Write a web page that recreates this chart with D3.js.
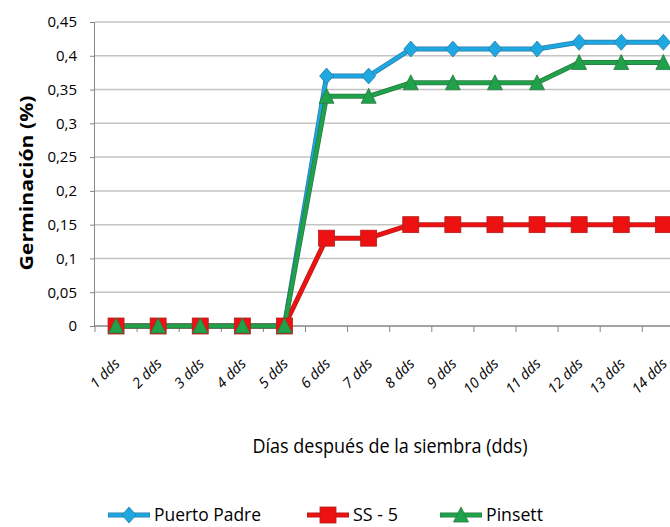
<!DOCTYPE html>
<html><head><meta charset="utf-8">
<script src="https://cdn.jsdelivr.net/npm/d3@7"></script>
<style>body{margin:0;background:#fff}svg{display:block}</style>
</head><body>
<script>
const categories = ["1 dds","2 dds","3 dds","4 dds","5 dds","6 dds","7 dds","8 dds","9 dds","10 dds","11 dds","12 dds","13 dds","14 dds"];
const puertoPadre = [0,0,0,0,0,0.37,0.37,0.41,0.41,0.41,0.41,0.42,0.42,0.42];
const ss5 = [0,0,0,0,0,0.13,0.13,0.15,0.15,0.15,0.15,0.15,0.15,0.15];
const pinsett = [0,0,0,0,0,0.34,0.34,0.36,0.36,0.36,0.36,0.39,0.39,0.39];
const yTicks = [0,0.05,0.1,0.15,0.2,0.25,0.3,0.35,0.4,0.45];
const seriesNames = ["Puerto Padre","SS - 5","Pinsett"];

(function(){
const W=670,H=527;
const FONT='"Open Sans",sans-serif';
const svg=d3.select("body").append("svg").attr("width",W).attr("height",H);
const pL=95, pT=22, pB=326, bandW=42.1;
const x=d3.scaleBand().domain(categories).range([pL,pL+bandW*categories.length]);
const y=d3.scaleLinear().domain([0,0.45]).range([pB,pT]);
const fmt=v=>String(+v.toFixed(2)).replace(".",",");

// gridlines
svg.append("g").selectAll("line").data(yTicks.filter(t=>t>0)).join("line")
 .attr("x1",pL).attr("x2",W).attr("y1",d=>y(d)).attr("y2",d=>y(d))
 .attr("stroke","#c4c4c4").attr("stroke-width",1.5);

// y axis
const ya=svg.append("g").attr("transform",`translate(${pL},0)`)
 .call(d3.axisLeft(y).tickValues(yTicks).tickFormat(fmt).tickSize(5).tickPadding(13));
ya.select(".domain").attr("stroke","#868686").attr("d",`M-0.5,${pT}V${pB}`);
ya.selectAll(".tick line").attr("stroke","#868686");
ya.selectAll("text").attr("font-family",FONT).attr("font-size",15).attr("fill","#000");

// x axis
const xa=svg.append("g").attr("transform",`translate(0,${pB})`)
 .call(d3.axisBottom(x).tickSize(0).tickFormat(""));
xa.select(".domain").attr("stroke","#868686").attr("stroke-width",1.5).attr("d",`M${pL},0H${W}`);
svg.append("g").selectAll("line").data(d3.range(categories.length+1)).join("line")
 .attr("x1",i=>pL+i*bandW).attr("x2",i=>pL+i*bandW)
 .attr("y1",pB).attr("y2",pB+6).attr("stroke","#868686");
svg.append("g").selectAll("text").data(categories).join("text")
 .attr("transform",d=>`translate(${x(d)+x.bandwidth()/2+1},${pB+35}) rotate(-45)`)
 .attr("text-anchor","end").attr("dy","0.35em")
 .attr("font-family",FONT).attr("font-size",14.5).attr("font-style","italic").text(d=>d);

// axis titles
svg.append("text").attr("transform","translate(33,183) rotate(-90)").attr("text-anchor","middle")
 .attr("font-family",FONT).attr("font-weight","bold").attr("font-size",18)
 .attr("textLength",175).attr("lengthAdjust","spacingAndGlyphs").text("Germinación (%)");
svg.append("text").attr("x",390).attr("y",453).attr("text-anchor","middle")
 .attr("font-family",FONT).attr("font-size",20)
 .attr("textLength",275).attr("lengthAdjust","spacingAndGlyphs").text("Días después de la siembra (dds)");

const cx=d=>x(d)+x.bandwidth()/2;
const series=[
 {name:seriesNames[0],vals:puertoPadre,color:"#1ea7e1",edge:"#2a7fa8",shape:"diamond"},
 {name:seriesNames[1],vals:ss5,color:"#ee1111",edge:"#b02020",shape:"square"},
 {name:seriesNames[2],vals:pinsett,color:"#1fa24a",edge:"#2b7a45",shape:"triangle"}
];
function marker(g,shape,color,edge){
 if(shape==="diamond") g.append("path").attr("d","M0,-8L7,0L0,8L-7,0Z").attr("fill",color).attr("stroke",edge).attr("stroke-width",0.8);
 else if(shape==="square") g.append("rect").attr("x",-8).attr("y",-8).attr("width",16).attr("height",16).attr("fill",color).attr("stroke",edge).attr("stroke-width",0.8);
 else g.append("path").attr("d","M0,-8L7.5,7L-7.5,7Z").attr("fill",color).attr("stroke",edge).attr("stroke-width",0.8);
}
const line=d3.line().x((d,i)=>cx(categories[i])).y(d=>y(d));
series.forEach(s=>{
 const g=svg.append("g");
 g.append("path").attr("d",line(s.vals)).attr("fill","none").attr("stroke",s.edge).attr("stroke-width",5).attr("stroke-linejoin","round");
 g.append("path").attr("d",line(s.vals)).attr("fill","none").attr("stroke",s.color).attr("stroke-width",3.5).attr("stroke-linejoin","round");
});
series.forEach(s=>{
 s.vals.forEach((v,i)=>{
  const g=svg.append("g").attr("transform",`translate(${cx(categories[i])},${y(v)})`);
  marker(g,s.shape,s.color,s.edge);
 });
});

// legend
const legX=[108,307,440];
const legLen=[107,45,57];
series.forEach((s,i)=>{
 const g=svg.append("g").attr("transform",`translate(${legX[i]},515)`);
 g.append("line").attr("x1",0).attr("x2",42).attr("stroke",s.edge).attr("stroke-width",5);
 g.append("line").attr("x1",0.5).attr("x2",41.5).attr("stroke",s.color).attr("stroke-width",3.5);
 const m=g.append("g").attr("transform","translate(21,0)");
 marker(m,s.shape,s.color,s.edge);
 g.append("text").attr("x",46).attr("y",0).attr("dy","0.36em").attr("font-family",FONT).attr("font-size",18)
  .attr("textLength",legLen[i]).attr("lengthAdjust","spacingAndGlyphs").text(s.name);
});
})();
</script>
</body></html>
